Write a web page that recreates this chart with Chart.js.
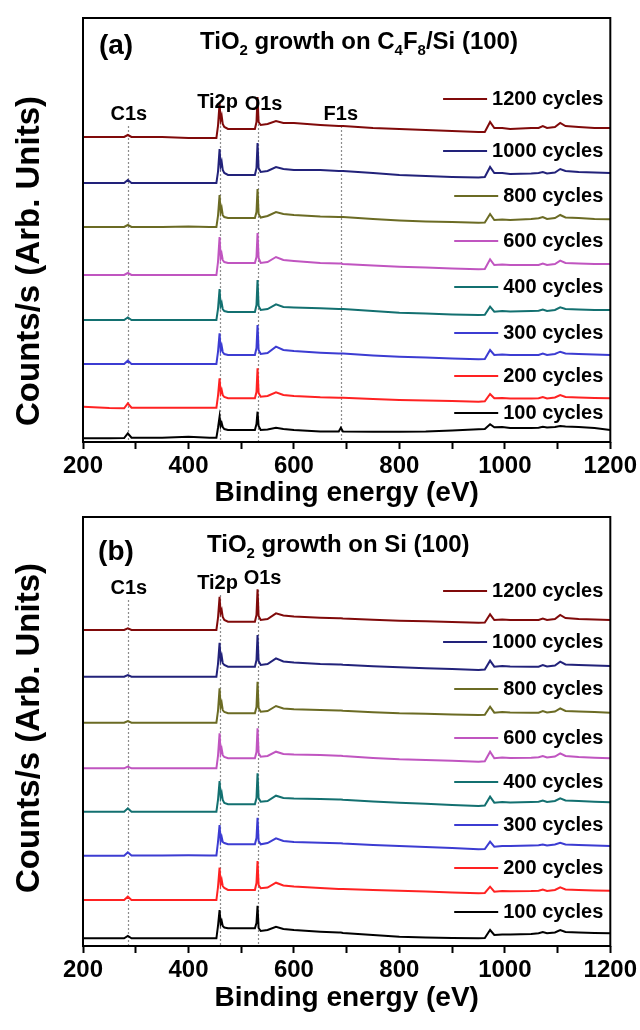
<!DOCTYPE html>
<html>
<head>
<meta charset="utf-8">
<script src="https://cdn.jsdelivr.net/npm/chart.js@4.4.1/dist/chart.umd.min.js"></script>
<style>
  body { margin: 0; background: #fff; }
  .panel { position: relative; width: 640px; }
</style>
</head>
<body>
<div class="panel" style="height:510px"><canvas id="chartA"></canvas></div>
<div class="panel" style="height:505px"><canvas id="chartB"></canvas></div>
<script>
// binding energy grid (eV), shared by every spectrum
const energy = [200, 250, 278, 285, 292, 350, 400, 440, 453, 456,
  459, 461, 463, 465, 468, 475, 500, 526, 529, 531,
  533, 537, 550, 566, 580, 600, 650, 685, 689, 693,
  750, 800, 850, 900, 950, 962, 972, 980, 995, 1010,
  1050, 1064, 1072, 1080, 1095, 1105, 1115, 1140, 1170, 1200];

const cycles = ["1200 cycles", "1000 cycles", "800 cycles", "600 cycles",
  "400 cycles", "300 cycles", "200 cycles", "100 cycles"];
const colors = ["#800a0a", "#22227a", "#6b6b24", "#c055c0",
  "#137070", "#3c3cd2", "#ff2222", "#000000"];

// (a) TiO2 on C4F8/Si(100), stacked counts (arb. units)
const a1200 = [305, 305, 305, 307, 305, 305, 304, 304, 304, 316, 339, 322, 326, 318, 315, 313, 313, 313, 320, 345, 320, 317, 318, 321, 319, 319, 317, 316, 316, 316, 314, 313, 312, 311, 310, 310, 320, 314, 314, 313, 314, 314, 316, 314, 315, 319, 316, 315, 314, 314];
const a1000 = [259, 259, 259, 262, 259, 259, 259, 259, 259, 270, 293, 276, 280, 272, 269, 267, 267, 267, 274, 299, 274, 270, 271, 275, 273, 272, 272, 271, 271, 271, 269, 267, 266, 265, 264.5, 265, 275, 269, 269, 268, 268.5, 269, 270, 268.5, 269.5, 273, 271, 270, 269.5, 269];
const a800 = [215, 215, 215, 217, 215, 215, 215.5, 215, 215, 226, 247, 230, 234, 227, 225, 224, 224, 224, 230, 253, 228, 224.5, 226, 230, 228, 227, 225.5, 225, 225, 225, 223, 221.5, 220.5, 220, 219.3, 219.5, 228, 222, 222.5, 222, 223, 223.7, 225, 223, 224, 227, 224.5, 224, 223, 222.7];
const a600 = [167, 167, 167, 169, 167, 167, 167, 167, 167, 180, 205, 184, 188, 182, 180, 179, 179, 179, 185, 209, 184, 179, 180, 185, 182, 181, 179, 178.5, 178.5, 178, 176.5, 175.3, 174.5, 173.5, 172.7, 173, 182.7, 177, 177.5, 177, 177, 177, 178.5, 177, 178, 181.3, 179, 178.5, 178, 178];
const a400 = [122, 122, 122, 124.5, 122, 122, 122, 122, 122, 133, 153, 136, 139, 133, 131, 130, 130, 130, 137, 162, 136, 132, 133, 137.7, 135, 134.5, 133.7, 133, 133, 133, 131, 129.3, 128.5, 127.5, 127, 127.3, 135.3, 130.3, 131, 130.5, 131, 131.3, 132.5, 131, 132, 134.7, 133, 132.5, 132, 132];
const a300 = [78, 78, 78, 81.3, 78, 78, 78, 78, 78, 90, 108.7, 92, 96, 90, 88, 87, 87, 87, 94, 117, 92, 88, 89, 95.3, 92, 91, 89.3, 88.5, 88.5, 88.5, 86.5, 85.3, 84.5, 83.5, 82.7, 83, 92, 87, 87.5, 87, 87, 87, 88.5, 87, 88, 90.3, 88.5, 88, 87.5, 87];
const a200 = [35.3, 34, 33.7, 38.7, 34.3, 34.3, 34.3, 34.3, 34.3, 46, 63.7, 49, 52, 47, 45, 43.7, 43.7, 43.7, 50, 73.7, 49, 45.3, 46, 49.7, 47, 46, 44.7, 44.3, 44.3, 44.3, 43, 42, 41.5, 41, 40.3, 40.7, 48, 43.7, 44, 43.5, 43.5, 43.7, 45, 43.5, 44.5, 47, 45, 44.5, 44, 43.7];
const a100 = [3.7, 3.7, 4, 8.7, 4.3, 4.3, 5.3, 4.3, 4.3, 14, 25.3, 16, 19, 15, 13, 12, 12, 12, 18, 30.3, 16, 12, 12.5, 14.3, 13, 12, 10.5, 10.5, 14.3, 10.5, 10.3, 10.3, 10.5, 11.5, 12.7, 13, 17.7, 14.7, 15, 14, 14, 14.3, 15.3, 14.5, 15, 16, 15.5, 15, 14, 12];

// (b) TiO2 on Si(100)
const b1200 = [316, 316, 316, 317.7, 316, 316, 316, 316, 316, 328, 349.3, 333, 336, 329, 326, 324.3, 324.3, 324.3, 331, 356.7, 330, 326, 327, 332.7, 330.5, 329.5, 328.3, 327.7, 327.7, 327.5, 326.3, 325.3, 324.8, 324, 323.3, 323.5, 331.7, 326, 326.5, 326, 326, 326, 327.5, 326, 327, 331, 328, 327, 326.5, 326];
const b1000 = [269.3, 269.3, 269.3, 271, 269.3, 269.3, 269.3, 269.3, 269.3, 282, 303.3, 286, 290, 283, 281, 279.3, 279.3, 279.3, 286, 311, 285, 281, 282, 287.7, 284.5, 283.5, 282, 281.5, 281.5, 281.3, 279.8, 278.7, 277.8, 277, 276, 276.5, 285.3, 279.3, 280, 279.5, 279.3, 279.3, 281, 279.5, 280.5, 284.3, 281.5, 281, 280.5, 280];
const b800 = [223.3, 223.3, 223.3, 225, 223.3, 223.3, 223.3, 223.3, 223.3, 235, 257.7, 239, 243, 236, 234, 232.7, 232.7, 232.7, 239, 264.3, 238, 234.3, 235, 240, 237.5, 236.8, 236, 235.5, 235.5, 235.3, 233.8, 232.7, 232.2, 231.6, 231, 231.3, 239.3, 233.3, 234, 233.5, 233.3, 233.3, 235, 233.5, 234.5, 237.7, 235, 234.5, 234, 233.3];
const b600 = [177.7, 177.7, 177.7, 179.5, 177.7, 177.7, 177.7, 177.7, 177.7, 190, 212.7, 193, 197, 191, 189, 187.7, 187.7, 187.7, 194, 217.7, 193, 189.3, 190, 194.3, 192, 191.5, 191, 190.3, 190.3, 190, 188, 186.7, 186, 185.2, 184.3, 184.8, 194.3, 187.7, 188.5, 188, 188.3, 188.7, 190, 188.5, 189.5, 192.7, 190, 189, 188.3, 187.7];
const b400 = [134.3, 134.3, 134.3, 137.7, 134.3, 134.3, 134.3, 134.3, 134.3, 146, 165, 149, 153, 146, 143, 141.7, 141.7, 141.7, 148, 172.7, 148, 144.3, 145, 150.3, 148, 147.5, 147, 146.5, 146.5, 146.3, 144.5, 143.3, 142.3, 141, 140, 140.5, 149.3, 143.3, 144, 143.5, 144, 144.3, 145.5, 144, 145, 147.7, 145.5, 145, 144.3, 143.7];
const b300 = [90.3, 90.3, 90.3, 93.7, 90.5, 90.5, 90.8, 90.6, 90.6, 104, 121, 105, 109, 104, 103, 101.7, 101.7, 101.7, 108, 128.3, 105, 101.7, 103, 107.7, 105, 104, 103.3, 102.7, 102.7, 102.5, 101, 100, 99, 98, 96.7, 97, 104.3, 99.3, 100, 100, 100.5, 100.7, 101.5, 100.5, 101.5, 103.3, 101.5, 101, 100.5, 100];
const b200 = [46, 46, 46, 49.3, 46, 46, 46, 46, 46, 59, 78.3, 62, 66, 60, 58, 56, 56, 56, 63, 85, 61, 57.7, 58.5, 63.3, 60.5, 59.5, 58, 57, 57, 57, 56, 55.3, 54.5, 53.5, 52.7, 53, 59.3, 54.3, 55, 54.8, 55, 55.3, 56.5, 55, 56, 58.7, 56.5, 56, 55.5, 55.3];
const b100 = [7.7, 7.7, 7.7, 10, 7.7, 7.7, 7.7, 7.7, 7.7, 20, 36, 22, 25, 20, 18.5, 17.7, 17.7, 17.7, 23, 40.3, 18, 15, 16, 19.3, 17, 16, 14.3, 13.5, 13.5, 13, 11, 9.3, 8.5, 8, 7.7, 8, 16, 11, 11.5, 11.5, 12, 12.7, 14, 12.7, 13.5, 16, 14, 13.5, 13, 12.7];

// peak positions marked with dotted lines (eV)
const peakNamesA = ["C1s", "Ti2p", "O1s", "F1s"];
const peakEnergyA = [285, 459, 531, 689];
const peakNamesB = ["C1s", "Ti2p", "O1s"];
const peakEnergyB = [285, 459, 531];

const FONT = "'Liberation Sans', Arial, sans-serif";

// draw text with subscript parts: [[text, isSub], ...]
function drawRich(ctx, parts, x, y, size, subSize) {
  parts.forEach(([t, sub]) => {
    ctx.font = `bold ${sub ? subSize : size}px ${FONT}`;
    ctx.fillText(t, x, sub ? y + size * 0.38 : y);
    x += ctx.measureText(t).width;
  });
}

const panelDeco = {
  id: "panelDeco",
  beforeDatasetsDraw(chart, args, o) {
    const { ctx, chartArea: a, scales: { x } } = chart;
    ctx.save();
    ctx.strokeStyle = "#8c8c8c";
    ctx.lineWidth = 1.2;
    ctx.setLineDash([2, 2]);
    o.peaks.forEach((p) => {
      const px = Math.round(x.getPixelForValue(p.e)) + 0.5;
      ctx.beginPath();
      ctx.moveTo(px, a.top + p.ly + 12);
      ctx.lineTo(px, a.bottom);
      ctx.stroke();
    });
    ctx.restore();
  },
  afterDatasetsDraw(chart, args, o) {
    const { ctx, chartArea: a, scales: { x, y } } = chart;
    ctx.save();
    ctx.fillStyle = "#000";
    ctx.textBaseline = "middle";

    // panel tag and title
    ctx.textAlign = "center";
    ctx.font = `bold 28px ${FONT}`;
    ctx.fillText(o.tag, a.left + 33, a.top + o.tagY);
    ctx.textAlign = "left";
    drawRich(ctx, o.title, o.titleX, a.top + o.titleY, 24, 15);

    // peak labels
    ctx.textAlign = "center";
    ctx.font = `bold 20px ${FONT}`;
    o.peaks.forEach((p) => {
      ctx.fillText(p.name, x.getPixelForValue(p.e) + p.dx, a.top + p.ly);
    });

    // legend, each entry sitting above its own trace
    ctx.textAlign = "right";
    ctx.font = `bold 20px ${FONT}`;
    chart.data.datasets.forEach((ds, i) => {
      const ty = y.getPixelForValue(o.legendY[i]);
      const tx = a.right - 7;
      const w = ctx.measureText(ds.label).width;
      ctx.fillText(ds.label, tx, ty);
      ctx.strokeStyle = ds.borderColor;
      ctx.lineWidth = 2;
      ctx.beginPath();
      ctx.moveTo(tx - w - 49, ty);
      ctx.lineTo(tx - w - 5, ty);
      ctx.stroke();
    });

    // y axis title
    ctx.save();
    ctx.translate(30, o.yTitleY);
    ctx.rotate(-Math.PI / 2);
    ctx.textAlign = "center";
    ctx.font = `bold 33px ${FONT}`;
    ctx.fillText("Counts/s (Arb. Units)", 0, 0);
    ctx.restore();

    // frame
    ctx.strokeStyle = "#000";
    ctx.lineWidth = 2;
    ctx.strokeRect(a.left, a.top, a.right - a.left, a.bottom - a.top);
    ctx.restore();
  },
};

function buildChart(id, series, o) {
  return new Chart(document.getElementById(id), {
    type: "line",
    data: {
      datasets: series.map((vals, i) => ({
        label: cycles[i],
        data: energy.map((e, k) => ({ x: e, y: vals[k] })),
        borderColor: colors[i],
        borderWidth: 2,
        pointRadius: 0,
        tension: 0,
        fill: false,
      })),
    },
    options: {
      responsive: true,
      maintainAspectRatio: false,
      animation: false,
      layout: { padding: o.padding },
      plugins: {
        legend: { display: false },
        tooltip: { enabled: false },
        panelDeco: o.deco,
      },
      scales: {
        x: {
          type: "linear",
          min: 200,
          max: 1200,
          border: { display: false },
          grid: { drawOnChartArea: false, tickLength: 7, tickWidth: 2, tickColor: "#000" },
          ticks: {
            stepSize: 100,
            autoSkip: false,
            maxRotation: 0,
            padding: 3,
            color: "#000",
            font: { family: FONT, size: 24, weight: "bold" },
            callback: (v) => (v % 200 === 0 ? v : ""),
          },
          title: {
            display: true,
            text: "Binding energy (eV)",
            color: "#000",
            padding: 0,
            font: { family: FONT, size: 28, weight: "bold" },
          },
          afterFit: (s) => { s.height = o.xHeight; },
        },
        y: { display: false, min: 0, max: o.yMax },
      },
    },
    plugins: [panelDeco],
  });
}

buildChart("chartA", [a1200, a1000, a800, a600, a400, a300, a200, a100], {
  padding: { left: 83, right: 28, top: 18, bottom: 0 },
  xHeight: 68,
  yMax: 424,
  deco: {
    tag: "(a)",
    tagY: 28,
    titleX: 200,
    titleY: 24,
    title: [["TiO", false], ["2", true], [" growth on C", false], ["4", true], ["F", false], ["8", true], ["/Si (100)", false]],
    peaks: peakNamesA.map((n, i) => ({ name: n, e: peakEnergyA[i], dx: [1, -2, 6, 0][i], ly: [96, 84, 86, 96][i] })),
    legendY: [343, 291, 246, 201, 155, 109, 66, 29],
    yTitleY: 261,
  },
});

buildChart("chartB", [b1200, b1000, b800, b600, b400, b300, b200, b100], {
  padding: { left: 83, right: 28, top: 7, bottom: 0 },
  xHeight: 69,
  yMax: 429,
  deco: {
    tag: "(b)",
    tagY: 35,
    titleX: 207,
    titleY: 28,
    title: [["TiO", false], ["2", true], [" growth on Si (100)", false]],
    peaks: peakNamesB.map((n, i) => ({ name: n, e: peakEnergyB[i], dx: [1, -2, 5][i], ly: [71, 66, 61][i] })),
    legendY: [355, 304, 257, 208, 164, 121, 78, 34],
    yTitleY: 218,
  },
});
</script>
</body>
</html>
